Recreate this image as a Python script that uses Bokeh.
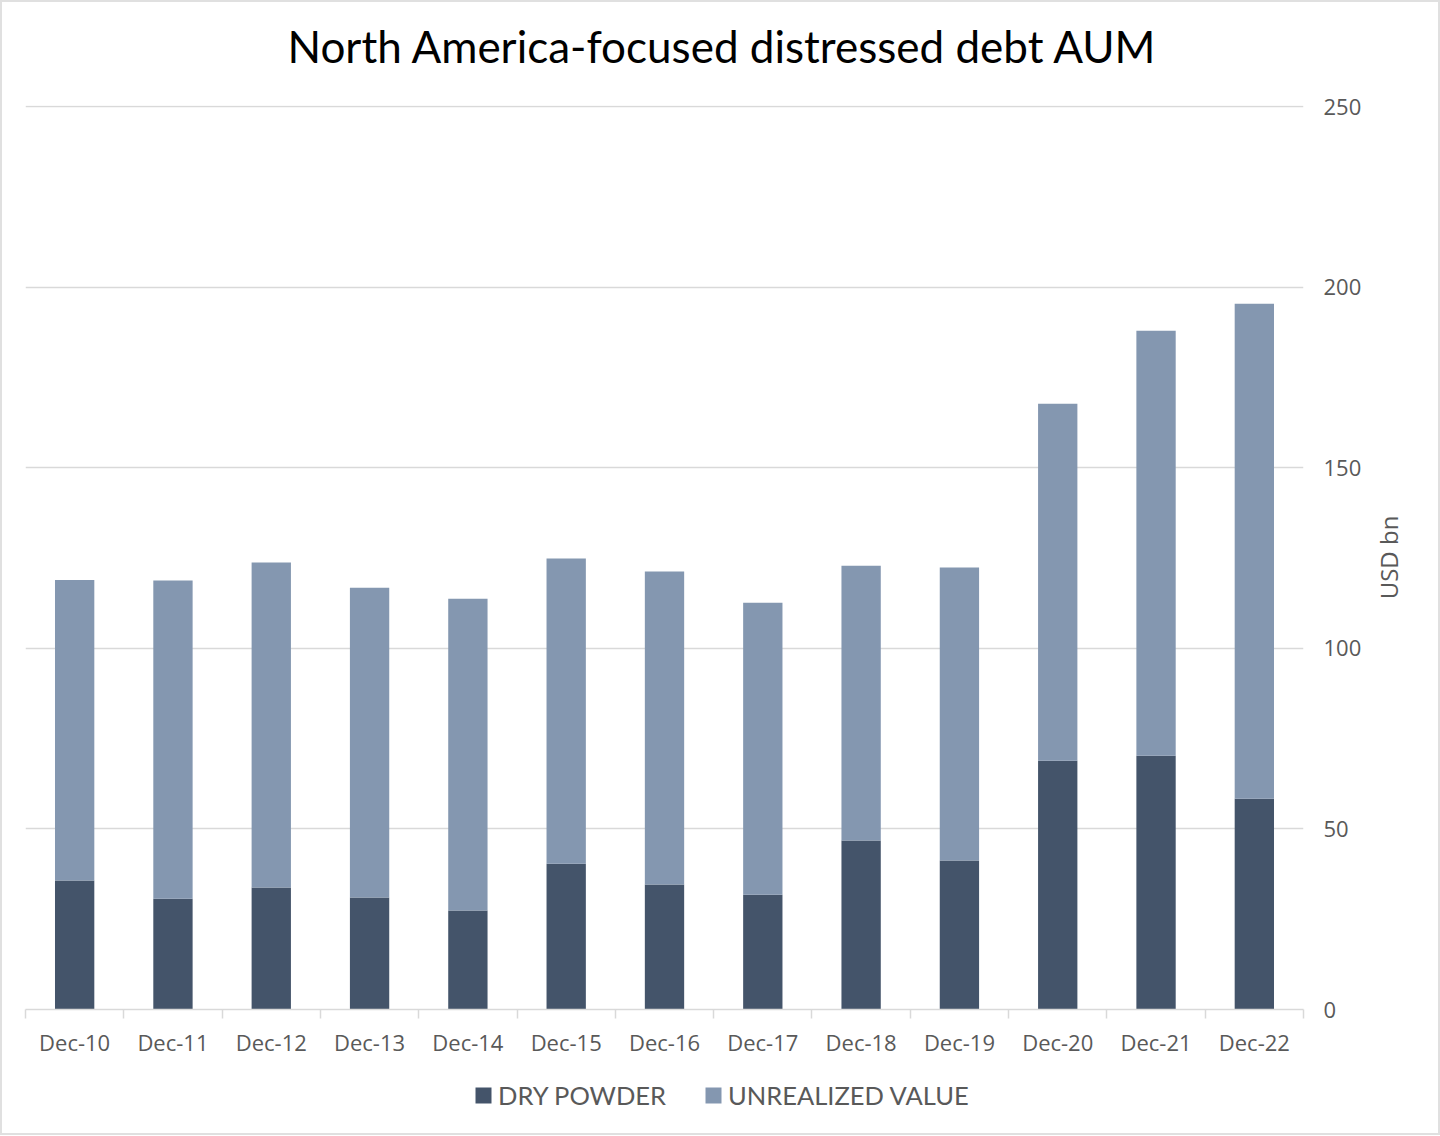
import math
from bokeh.plotting import figure
from bokeh.layouts import column, row
from bokeh.models import ColumnDataSource, FixedTicker, Legend, LegendItem, Range1d, Label
from bokeh.embed import file_html
from bokeh.resources import INLINE

title_text = "North America-focused distressed debt AUM"
y_label = "USD bn"
categories = ["Dec-10", "Dec-11", "Dec-12", "Dec-13", "Dec-14", "Dec-15", "Dec-16",
              "Dec-17", "Dec-18", "Dec-19", "Dec-20", "Dec-21", "Dec-22"]
dry_powder = [35.7, 30.7, 33.8, 31.0, 27.4, 40.4, 34.6, 31.8, 46.8, 41.3, 68.9, 70.3, 58.4]
unrealized_value = [83.3, 88.1, 90.0, 85.8, 86.4, 84.5, 86.7, 80.9, 76.1, 81.1, 98.9, 117.7, 137.1]
y_ticks = [0, 50, 100, 150, 200, 250]
series_names = ["DRY POWDER", "UNREALIZED VALUE"]

DARK = "#44546A"
LIGHT = "#8497B0"
TEXT = "#595959"
GRID = "#D9D9D9"


def strip(w, h):
    f = figure(width=w, height=h, output_backend="svg", toolbar_location=None,
               x_axis_type=None, y_axis_type=None, x_range=Range1d(0, 1), y_range=Range1d(0, 1))
    f.min_border = 0
    f.outline_line_color = None
    f.grid.grid_line_color = None
    f.background_fill_color = "white"
    f.border_fill_color = "white"
    return f


# ---- title strip
tf = strip(1436, 70)
tf.add_layout(Label(x=285, y=27, x_units="screen", y_units="screen", text=title_text,
                    text_font="Lato", text_font_size="44px", text_color="#000000",
                    text_baseline="alphabetic", text_align="left"))

# ---- main chart
xs = list(range(len(categories)))
totals = [a + b for a, b in zip(dry_powder, unrealized_value)]
src = ColumnDataSource(dict(x=xs, dp=dry_powder, tot=totals, zero=[0] * len(xs)))

p = figure(width=1368, height=992, output_backend="svg", toolbar_location=None,
           x_range=Range1d(-0.5, len(categories) - 0.5), y_range=Range1d(0, 250.4),
           y_axis_location="right")
p.min_border_left = 23
p.min_border_right = 67
p.min_border_top = 33
p.min_border_bottom = 55
p.outline_line_color = None
p.background_fill_color = "white"
p.border_fill_color = "white"

r1 = p.vbar(x="x", bottom="zero", top="dp", width=0.4, source=src, fill_color=DARK, line_color=None)
r2 = p.vbar(x="x", bottom="dp", top="tot", width=0.4, source=src, fill_color=LIGHT, line_color=None)

xa = p.xaxis[0]
xa.ticker = FixedTicker(ticks=xs, minor_ticks=[i - 0.5 for i in range(len(categories) + 1)])
xa.major_label_overrides = {i: c for i, c in enumerate(categories)}
xa.major_tick_line_color = None
xa.minor_tick_line_color = GRID
xa.minor_tick_line_width = 1.5
xa.minor_tick_out = 9
xa.minor_tick_in = 0
xa.axis_line_color = GRID
xa.axis_line_width = 1.5
xa.major_label_text_font = "Open Sans"
xa.major_label_text_font_size = "22px"
xa.major_label_text_color = TEXT
xa.major_label_standoff = 8

ya = p.yaxis[0]
ya.ticker = FixedTicker(ticks=y_ticks)
ya.axis_line_color = None
ya.major_tick_line_color = None
ya.minor_tick_line_color = None
ya.major_label_text_font = "Open Sans"
ya.major_label_text_font_size = "22px"
ya.major_label_text_color = TEXT
ya.major_label_standoff = 14

p.xgrid.grid_line_color = None
p.ygrid.grid_line_color = GRID
p.ygrid.grid_line_width = 1.5

# ---- y-axis title strip (right)
yf = strip(68, 992)
yf.add_layout(Label(x=17.5, y=452, x_units="screen", y_units="screen", text=y_label,
                    angle=math.pi / 2, text_font="Open Sans", text_font_size="24px",
                    text_color=TEXT, text_align="center", text_baseline="middle"))

# ---- legend strip
lf = strip(1436, 69)
offscreen = ColumnDataSource(dict(x=[5], top=[5], bottom=[4]))
l1 = lf.vbar(x="x", top="top", bottom="bottom", width=0.1, source=offscreen, fill_color=DARK, line_color=None)
l2 = lf.vbar(x="x", top="top", bottom="bottom", width=0.1, source=offscreen, fill_color=LIGHT, line_color=None)

legend = Legend(items=[LegendItem(label=series_names[0], renderers=[l1]),
                       LegendItem(label=series_names[1], renderers=[l2])],
                orientation="horizontal", location=(471, 23))
legend.label_text_font = "Lato"
legend.label_text_font_size = "25.5px"
legend.label_text_color = TEXT
legend.glyph_width = 20
legend.glyph_height = 20
legend.label_standoff = 5
legend.spacing = 37
legend.border_line_color = None
legend.background_fill_alpha = 0
legend.padding = 0
legend.margin = 0
lf.add_layout(legend, "center")

layout = column(tf, row(p, yf, spacing=0), lf, spacing=0)
layout.styles = {"border": "2px solid #E0E0E0", "box-sizing": "content-box", "width": "1436px"}

open("out.html", "w").write(file_html(layout, INLINE))
